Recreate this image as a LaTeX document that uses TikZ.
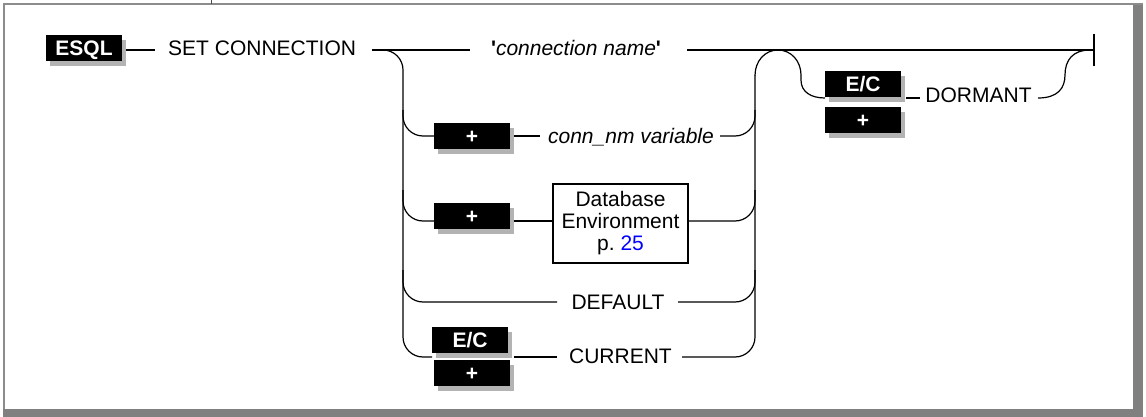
\documentclass[tikz,border=0pt]{standalone}
\usepackage{fontspec}
\setmainfont{Liberation Sans}
\usetikzlibrary{shadows}
\definecolor{shgray}{HTML}{B3B3B3}
\definecolor{framegray}{HTML}{808080}
\definecolor{thingray}{HTML}{8C8C8C}
\definecolor{linkblue}{HTML}{0000FF}
\begin{document}
\begin{tikzpicture}[x=1pt,y=-1pt,
  line/.style={line width=1.2pt},
  rc/.style={line, rounded corners=20pt},
  lbl/.style={font=\fontsize{21}{22}\selectfont, inner sep=0pt, anchor=base},
  blk/.style={fill=black, text=white, font=\fontsize{21}{22}\selectfont\bfseries,
    minimum width=76pt, minimum height=26pt, inner sep=0pt, text height=15pt, text depth=0pt,
    drop shadow={shadow xshift=4pt, shadow yshift=-5pt, fill=shgray, opacity=1}},
  refbox/.style={draw, line width=2pt, minimum width=135pt, minimum height=79pt, align=center,
    inner sep=0pt, font=\fontsize{21}{22}\selectfont},
]
\useasboundingbox (0,0) rectangle (1146,417);
% frame
\fill[thingray] (3,3) rectangle (1143,5);
\fill[thingray] (3,3) rectangle (5,409);
\fill[framegray] (1133,5) rectangle (1143,417);
\fill[framegray] (3,409) rectangle (1143,417);
\draw[line width=1pt, black!70] (211,0) -- (211,4);

% coordinates
\coordinate (a0) at (126,50);
\coordinate (a1) at (155,50);
\coordinate (b0) at (372,50);
\coordinate (b1) at (470,50);
\coordinate (c0) at (687,50);
\coordinate (endp) at (1094,50);
\coordinate (endt) at (1094,34);
\coordinate (endb) at (1094,66);

% main line
\draw[line] (a0) -- (a1);
\draw[line] (b0) -- (b1);
\draw[line] (c0) -- (endp);
\draw[line] (endt) -- (endb);

% left spine and right spine
\draw[rc] (380,50) -| (403,357) -- (432,357);
\draw[rc] (682,357) -| (755,75);
\draw[line] (755,75.5) .. controls (755,61) and (765,50) .. (778,50)
  .. controls (791,50) and (801,61) .. (801,75) -- (801,80)
  .. controls (801,92) and (811,98) .. (825,98);

% branch: conn_nm variable
\draw[rc] (403,110) |- (434,136);
\draw[line] (514,136) -- (540,136);
\draw[rc] (720,136) -| (755,110);

% branch: database environment
\draw[rc] (403,190) |- (434,221);
\draw[line] (514,221) -- (553,221);
\draw[rc] (688,221) -| (755,190);

% branch: DEFAULT
\draw[rc] (403,270) |- (557,302);
\draw[rc] (678,302) -| (755,270);

% branch: CURRENT
\draw[line] (514,357) -- (557,357);

% DORMANT
\draw[line] (906,98) -- (920,98);
\draw[line] (1038,98) .. controls (1058,98) and (1065,88) .. (1065,75)
  .. controls (1065,60) and (1073,50) .. (1090,50);

% nodes
\node[blk] (esql) at (84,48) {ESQL};
\node[lbl, anchor=base west] (setc) at (168,56) {SET CONNECTION};
\node[lbl] (cname) at (576,56) {\textbf{\textquotesingle}\textit{connection name}\textbf{\textquotesingle}};
\node[blk] (p1) at (472,136.5) {+};
\node[lbl] (cv) at (631,143) {\textit{conn\_nm variable}};
\node[blk] (p2) at (472,216) {+};
\node[refbox] (db) at (620.5,223.5) {Database\\Environment\\p.~\textcolor{linkblue}{25}};
\node[lbl] (def) at (618,309) {DEFAULT};
\node[blk] (ec1) at (470,340) {E/C};
\node[blk] (p3) at (472,372.5) {+};
\node[lbl] (cur) at (620.5,363) {CURRENT};
\node[blk] (ec2) at (863,84.5) {E/C};
\node[blk] (p4) at (863,120) {+};
\node[lbl] (dorm) at (978.5,103) {DORMANT};
\end{tikzpicture}
\end{document}
